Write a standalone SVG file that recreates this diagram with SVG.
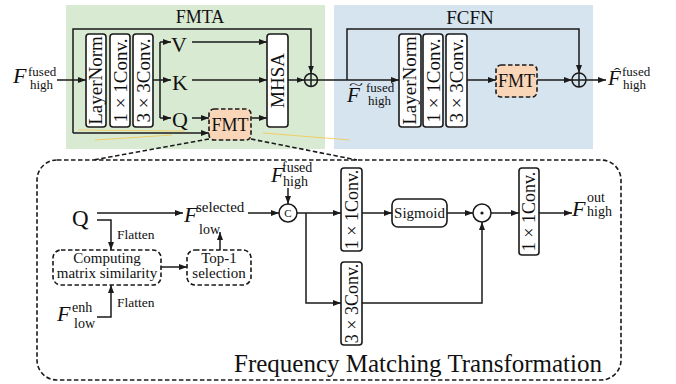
<svg xmlns="http://www.w3.org/2000/svg" width="676" height="384" viewBox="0 0 676 384">
<defs>
<marker id="ah" markerWidth="8" markerHeight="6" refX="8" refY="3" orient="auto" markerUnits="userSpaceOnUse">
<path d="M0,0 L8,3 L0,6 z" fill="#1a1a1a"/>
</marker>
<style>
text{font-family:"Liberation Serif","Times New Roman",serif;fill:#111}
.ln{fill:none;stroke:#1a1a1a;stroke-width:1.5}
.ar{fill:none;stroke:#1a1a1a;stroke-width:1.5;marker-end:url(#ah)}
.box{fill:#fff;stroke:#1a1a1a;stroke-width:1.6}
.dash{fill:#fff;stroke:#1a1a1a;stroke-width:1.6;stroke-dasharray:4.5 2.5}
.fmt{fill:#f9d6b8;stroke:#1a1a1a;stroke-width:1.6;stroke-dasharray:4.5 2.5}
.it{font-style:italic}
.yl{stroke:#f3c64a;stroke-width:1;fill:none;opacity:0.8}
.vt{font-size:19px;text-anchor:middle}
.vt2{font-size:18px;text-anchor:middle}
</style>
</defs>

<!-- panels -->
<g id="panel-fmta">
<rect x="66" y="5" width="259" height="144" fill="#d9ead3"/>
<text x="200" y="23" font-size="18" text-anchor="middle">FMTA</text>
</g>
<g id="panel-fcfn">
<rect x="334" y="5" width="259" height="144" fill="#d6e4f0"/>
<text x="470" y="24" font-size="19" text-anchor="middle">FCFN</text>
</g>

<!-- faint yellow strokes -->
<g id="marks">
<line class="yl" x1="78" y1="130" x2="185" y2="131"/>
<line class="yl" x1="95" y1="140" x2="172" y2="135"/>
<line class="yl" x1="263" y1="133" x2="350" y2="140"/>
</g>

<!-- FMT big box -->
<g id="fmt-detail">
<rect x="37" y="160" width="584" height="220" rx="20" ry="20" fill="none" stroke="#1a1a1a" stroke-width="1.6" stroke-dasharray="4.5 2.5"/>
<line x1="209" y1="139" x2="93" y2="160" stroke="#1a1a1a" stroke-width="1.6" stroke-dasharray="4.5 2.5"/>
<line x1="251" y1="139" x2="357" y2="160" stroke="#1a1a1a" stroke-width="1.6" stroke-dasharray="4.5 2.5"/>
<text x="234" y="372" font-size="25">Frequency Matching Transformation</text>
</g>

<!-- connectors -->
<g id="connectors">
<line class="ar" x1="57" y1="80" x2="86" y2="80"/>
<polyline class="ar" points="73,133 73,29 311,29 311,73.5"/>
<line class="ar" x1="73" y1="133" x2="209" y2="133"/>
<polyline class="ln" points="153,80 160,80"/>
<line class="ln" x1="160" y1="42" x2="160" y2="118"/>
<line class="ar" x1="160" y1="42" x2="171" y2="42"/>
<line class="ar" x1="160" y1="80" x2="171" y2="80"/>
<line class="ar" x1="160" y1="118" x2="171" y2="118"/>
<line class="ar" x1="192" y1="42" x2="267" y2="42"/>
<line class="ar" x1="192" y1="80" x2="267" y2="80"/>
<line class="ar" x1="192" y1="118" x2="209" y2="118"/>
<line class="ar" x1="252" y1="118" x2="267" y2="118"/>
<line class="ar" x1="288" y1="80" x2="304.5" y2="80"/>
<line class="ar" x1="317.5" y1="80" x2="399" y2="80"/>
<polyline class="ar" points="347,80 347,29 579,29 579,73"/>
<line class="ar" x1="467" y1="80" x2="496" y2="80"/>
<line class="ar" x1="537" y1="80" x2="572" y2="80"/>
<line class="ar" x1="586" y1="80" x2="606" y2="80"/>
<line class="ar" x1="97" y1="213" x2="183" y2="213"/>
<polyline class="ar" points="97,220 111,220 111,250"/>
<polyline class="ar" points="97,317 111,317 111,285"/>
<line class="ar" x1="161" y1="267" x2="187" y2="267"/>
<line class="ar" x1="220" y1="250" x2="220" y2="232"/>
<line class="ar" x1="248" y1="213" x2="279" y2="213"/>
<line class="ar" x1="288" y1="188" x2="288" y2="204"/>
<line class="ar" x1="297" y1="213" x2="341" y2="213"/>
<polyline class="ar" points="306,213 306,303 341,303"/>
<line class="ar" x1="362" y1="213" x2="392" y2="213"/>
<line class="ar" x1="447" y1="213" x2="473" y2="213"/>
<polyline class="ar" points="362,303 482,303 482,222"/>
<line class="ar" x1="491" y1="213" x2="519" y2="213"/>
<line class="ar" x1="539" y1="213" x2="572" y2="213"/>
</g>

<!-- FMTA nodes -->
<g id="in-label">
<text x="13" y="83" font-size="22" class="it">F</text>
<text x="28" y="76" font-size="13">fused</text>
<text x="30" y="89" font-size="13">high</text>
</g>
<g id="fmta-layernorm">
<rect class="box" x="86" y="34" width="20" height="93" rx="3"/>
<text class="vt" transform="translate(96,80.5) rotate(-90)" dy="6">LayerNorm</text>
</g>
<g id="fmta-conv1">
<rect class="box" x="110" y="34" width="20" height="93" rx="3"/>
<text class="vt" transform="translate(120,80.5) rotate(-90)" dy="6.5">1 × 1Conv.</text>
</g>
<g id="fmta-conv3">
<rect class="box" x="133" y="34" width="20" height="93" rx="3"/>
<text class="vt" transform="translate(143,80.5) rotate(-90)" dy="6.5">3 × 3Conv.</text>
</g>
<g id="v"><text x="171" y="52" font-size="22">V</text></g>
<g id="k"><text x="172" y="90" font-size="22">K</text></g>
<g id="q"><text x="172" y="127" font-size="22">Q</text></g>
<g id="fmta-fmt">
<rect class="fmt" x="209" y="109" width="42" height="31" rx="5"/>
<text x="230" y="131" font-size="18" text-anchor="middle">FMT</text>
</g>
<g id="mhsa">
<rect class="box" x="267" y="34" width="21" height="93" rx="3"/>
<text class="vt" transform="translate(277.5,80.5) rotate(-90)" dy="6.5">MHSA</text>
</g>
<g id="add1">
<circle cx="311" cy="80" r="6.5" fill="none" stroke="#1a1a1a" stroke-width="1.5"/>
<line class="ln" x1="304.5" y1="80" x2="317.5" y2="80"/>
<line class="ln" x1="311" y1="73.5" x2="311" y2="86.5"/>
</g>

<!-- FCFN nodes -->
<g id="tilde-label">
<text x="347" y="102" font-size="21" class="it">F</text>
<text x="0" y="0" font-size="26" text-anchor="middle" transform="translate(356,89) scale(1,0.5)">~</text>
<text x="366" y="92" font-size="13">fused</text>
<text x="368" y="105" font-size="13">high</text>
</g>
<g id="fcfn-layernorm">
<rect class="box" x="399" y="34" width="22" height="93" rx="3"/>
<text class="vt" transform="translate(410,80.5) rotate(-90)" dy="6">LayerNorm</text>
</g>
<g id="fcfn-conv1">
<rect class="box" x="423" y="34" width="20" height="93" rx="3"/>
<text class="vt" transform="translate(433,80.5) rotate(-90)" dy="6.5">1 × 1Conv.</text>
</g>
<g id="fcfn-conv3">
<rect class="box" x="446" y="34" width="21" height="93" rx="3"/>
<text class="vt" transform="translate(456.5,80.5) rotate(-90)" dy="6.5">3 × 3Conv.</text>
</g>
<g id="fcfn-fmt">
<rect class="fmt" x="496" y="65" width="41" height="32" rx="5"/>
<text x="516.5" y="87" font-size="18" text-anchor="middle">FMT</text>
</g>
<g id="add2">
<circle cx="579" cy="80" r="7" fill="none" stroke="#1a1a1a" stroke-width="1.5"/>
<line class="ln" x1="572" y1="80" x2="586" y2="80"/>
<line class="ln" x1="579" y1="73" x2="579" y2="87"/>
</g>
<g id="hat-label">
<text x="608" y="85" font-size="21" class="it">F</text>
<text x="0" y="0" font-size="14" text-anchor="middle" transform="translate(617,78) scale(1.4,1)">ˆ</text>
<text x="622" y="76" font-size="13">fused</text>
<text x="623" y="89" font-size="13">high</text>
</g>

<!-- lower nodes -->
<g id="q-low"><text x="72" y="226" font-size="23">Q</text></g>
<g id="flatten1"><text x="117" y="239" font-size="13.5">Flatten</text></g>
<g id="flatten2"><text x="117" y="307" font-size="13.5">Flatten</text></g>
<g id="enh-label">
<text x="57" y="321" font-size="22" class="it">F</text>
<text x="72" y="312" font-size="14">enh</text>
<text x="74" y="328" font-size="14">low</text>
</g>
<g id="computing">
<rect class="dash" x="53" y="250" width="108" height="35" rx="8"/>
<text x="107" y="263" font-size="15" text-anchor="middle">Computing</text>
<text x="107" y="278" font-size="15" text-anchor="middle">matrix similarity</text>
</g>
<g id="top1">
<rect class="dash" x="187" y="250" width="64" height="35" rx="8"/>
<text x="219" y="263" font-size="15" text-anchor="middle">Top-1</text>
<text x="219" y="278" font-size="15" text-anchor="middle">selection</text>
</g>
<g id="selected-label">
<text x="184" y="222" font-size="22" class="it">F</text>
<text x="196" y="212" font-size="15">selected</text>
<text x="199" y="234" font-size="14">low</text>
</g>
<g id="fused-label2">
<text x="271" y="182" font-size="21" class="it">F</text>
<text x="282" y="172" font-size="14">fused</text>
<text x="283" y="186" font-size="14">high</text>
</g>
<g id="concat">
<circle cx="288" cy="213" r="9" fill="#fff" stroke="#1a1a1a" stroke-width="1.5"/>
<text x="288" y="217" font-size="11" text-anchor="middle">C</text>
</g>
<g id="conv1-low">
<rect class="box" x="341" y="168" width="21" height="83" rx="3"/>
<text class="vt2" transform="translate(351.5,209.5) rotate(-90)" dy="6">1 × 1Conv.</text>
</g>
<g id="conv3-low">
<rect class="box" x="341" y="262" width="21" height="83" rx="3"/>
<text class="vt2" transform="translate(351.5,303.5) rotate(-90)" dy="6">3 × 3Conv.</text>
</g>
<g id="sigmoid">
<rect class="box" x="392" y="199" width="55" height="28" rx="6"/>
<text x="419.5" y="218" font-size="15" text-anchor="middle">Sigmoid</text>
</g>
<g id="mult">
<circle cx="482" cy="213" r="9" fill="#fff" stroke="#1a1a1a" stroke-width="1.5"/>
<circle cx="482" cy="213" r="1.6" fill="#1a1a1a"/>
</g>
<g id="conv1-out">
<rect class="box" x="519" y="168" width="20" height="87" rx="3"/>
<text class="vt2" transform="translate(529,211.5) rotate(-90)" dy="6">1 × 1Conv.</text>
</g>
<g id="out-label">
<text x="572" y="216" font-size="22" class="it">F</text>
<text x="587" y="202" font-size="14">out</text>
<text x="587" y="216" font-size="14">high</text>
</g>
</svg>
